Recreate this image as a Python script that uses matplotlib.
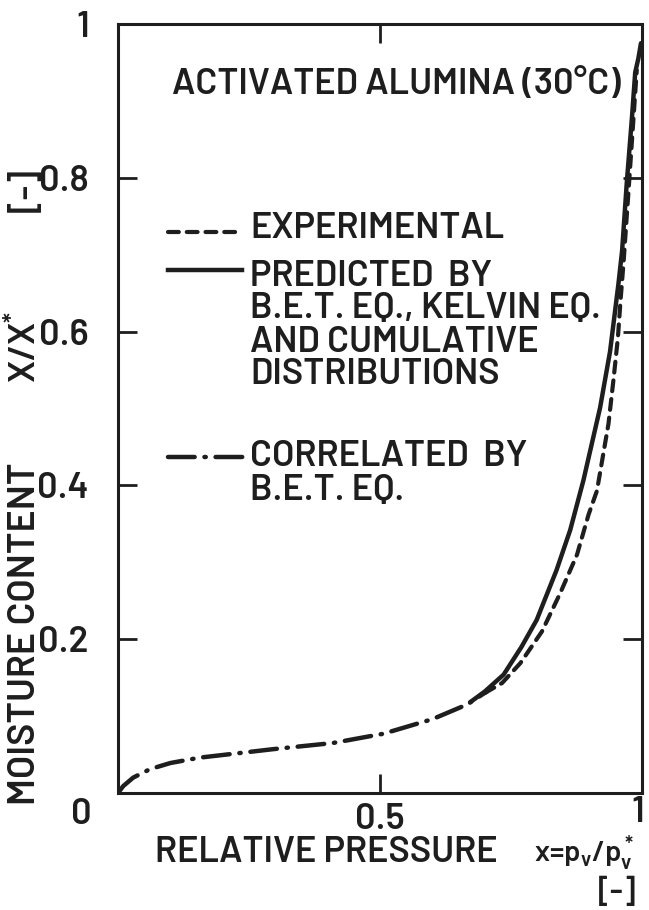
import numpy as np
import matplotlib.pyplot as plt
from matplotlib.lines import Line2D

plt.rcParams['font.family'] = ['Barlow', 'DejaVu Sans']
plt.rcParams['font.weight'] = 'semibold'
plt.rcParams['mathtext.fontset'] = 'custom'
plt.rcParams['mathtext.rm'] = 'Barlow:semibold'
plt.rcParams['mathtext.it'] = 'Barlow:semibold'
plt.rcParams['mathtext.bf'] = 'Barlow:bold'

# correlated by B.E.T. eq. (dash-dot)
bet_x = [0.0, 0.01, 0.029, 0.061, 0.1, 0.156, 0.22, 0.296, 0.41, 0.506, 0.6, 0.666, 0.704]
bet_y = [0.0, 0.009, 0.02, 0.031, 0.039, 0.046, 0.051, 0.057, 0.065, 0.077, 0.096, 0.115, 0.132]

# predicted by B.E.T. + Kelvin + cumulative distributions (solid)
pred_x = [0.672, 0.70, 0.736, 0.77, 0.799, 0.837, 0.863, 0.888, 0.92, 0.939,
          0.955, 0.962, 0.971, 0.981, 0.987, 0.993, 0.998]
pred_y = [0.118, 0.132, 0.154, 0.19, 0.225, 0.29, 0.342, 0.406, 0.501, 0.574,
          0.662, 0.705, 0.794, 0.88, 0.937, 0.955, 0.975]

# experimental (dashed)
exp_x = [0.70, 0.733, 0.768, 0.809, 0.844, 0.876, 0.898, 0.914, 0.936, 0.946,
         0.954, 0.959, 0.965, 0.975, 0.983, 0.99]
exp_y = [0.13, 0.143, 0.169, 0.21, 0.26, 0.31, 0.362, 0.393, 0.48, 0.54,
         0.592, 0.64, 0.692, 0.79, 0.87, 0.94]

ytick_vals = [0.2, 0.4, 0.6, 0.8, 1.0]
ytick_labels = ['0.2', '0.4', '0.6', '0.8', '1']
xtick_vals = [0.5, 1.0]
xtick_labels = ['0.5', '']

W, H = 649, 910
ink = '#1e1e1e'
fs = 26


def fx(px):
    return px / W


def fy(py):
    return 1 - py / H


fig = plt.figure(figsize=(W / 100, H / 100), dpi=100)
ax = fig.add_axes([fx(118), fy(793), fx(642) - fx(118), fy(24) - fy(793)])

dash = (0, (2.6, 1.9))
dashdot = (0, (6.0, 2.2, 0.3, 2.2))
ax.plot(bet_x, bet_y, color=ink, lw=3.2, linestyle=dashdot, dash_capstyle='round')
ax.plot(pred_x, pred_y, color=ink, lw=3.2, solid_capstyle='round')
ax.plot(exp_x, exp_y, color=ink, lw=3.0, linestyle=dash, dash_capstyle='round')

ax.set_xlim(0, 1)
ax.set_ylim(0, 1)
for s in ax.spines.values():
    s.set_linewidth(2.2)
    s.set_color(ink)

ax.set_xticks(xtick_vals)
ax.set_xticklabels(xtick_labels)
ax.set_yticks(ytick_vals)
ax.set_yticklabels(ytick_labels)
ax.tick_params(direction='in', length=14, width=2, color=ink, labelsize=fs,
               labelcolor=ink, top=True, right=True)
ax.tick_params(axis='y', pad=21)
ax.tick_params(axis='x', pad=7)

# corner labels: shared origin and the x = 1 end
fig.text(fx(81), fy(815), '0', fontsize=fs, color=ink, ha='center', va='center')
fig.text(fx(638), fy(813), '1', fontsize=fs, color=ink, ha='center', va='center')

# title inside plot
fig.text(fx(172), fy(85), 'ACTIVATED ALUMINA (30°C)', fontsize=fs, color=ink,
         ha='left', va='center')

# legend keys
for (x0, x1, y, ls, lw) in [(168, 240, 232, dash, 3.0),
                            (168, 242, 270, '-', 3.2),
                            (168, 247, 457, dashdot, 3.2)]:
    fig.add_artist(Line2D([fx(x0), fx(x1)], [fy(y), fy(y)], color=ink, lw=lw,
                          linestyle=ls, dash_capstyle='round',
                          transform=fig.transFigure))

legend_rows = [(228, 'EXPERIMENTAL'),
               (276, 'PREDICTED  BY'),
               (309, 'B.E.T. EQ., KELVIN EQ.'),
               (342, 'AND CUMULATIVE'),
               (374, 'DISTRIBUTIONS'),
               (457, 'CORRELATED  BY'),
               (490, 'B.E.T. EQ.')]
for y, t in legend_rows:
    fig.text(fx(250), fy(y), t, fontsize=fs, color=ink, ha='left', va='center')

# axis titles
fig.text(fx(25), fy(634), 'MOISTURE CONTENT', fontsize=fs + 1, color=ink,
         rotation=90, ha='center', va='center')
fig.text(fx(25), fy(347), r'X/X$^{*}$', fontsize=fs, color=ink,
         rotation=90, ha='center', va='center')
fig.text(fx(26), fy(190), '[-]', fontsize=fs, color=ink,
         rotation=90, ha='center', va='center')

fig.text(fx(155), fy(853), 'RELATIVE PRESSURE', fontsize=fs, color=ink,
         ha='left', va='center')
fig.text(fx(534), fy(853), r'x=p$_v$/p$_v^*$', fontsize=fs - 5, color=ink,
         ha='left', va='center')
fig.text(fx(617), fy(892), '[-]', fontsize=fs - 3, color=ink,
         ha='center', va='center')

fig.savefig('out.png', dpi=100)
